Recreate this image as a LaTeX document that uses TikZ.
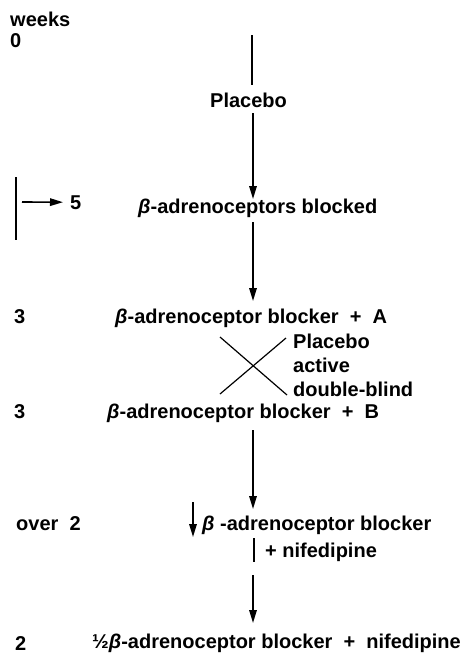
\documentclass[tikz,border=0pt]{standalone}
\usepackage{fontspec}
\setmainfont{Liberation Sans}
\usetikzlibrary{arrows.meta}
\newcommand{\bt}{{\itshape\bfseries β}}
\begin{document}
\begin{tikzpicture}[x=1pt,y=-1pt,
  txt/.style={anchor=base west,inner sep=0pt,font=\fontsize{20}{22}\selectfont\bfseries},
  conn/.style={line width=1.6pt},
  arr/.style={line width=1.6pt,-{Triangle[length=13pt,width=7.5pt]}}]
\useasboundingbox (0,0) rectangle (473,653);
% left labels
\node[txt] (weeks) at (10,26) {weeks};
\node[txt] (w0) at (10,47) {0};
\node[txt] (w5) at (70,209) {5};
\node[txt] (w3a) at (14,323) {3};
\node[txt] (w3b) at (14,418) {3};
\node[txt] (wover) at (16,530) {over\ \ 2};
\node[txt] (w2) at (15,650) {2};
% bracket with arrow to 5
\coordinate (brt) at (16,177);
\coordinate (brb) at (16,240);
\draw[conn] (brt) -- (brb);
\coordinate (fa) at (22,202);
\draw[arr,shorten >=7pt] (fa) -- (w5.west);
% centre texts
\node[txt] (placebo) at (210,107) {Placebo};
\node[txt] (blocked) at (138,213) {\bt-adrenoceptors blocked};
\node[txt] (bA) at (115,323) {\bt-adrenoceptor blocker\ \ +\ \ A};
\node[txt] (bB) at (107,418) {\bt-adrenoceptor blocker\ \ +\ \ B};
\node[txt] (pl) at (293,348) {Placebo};
\node[txt] (ac) at (293,372) {active};
\node[txt] (db) at (293,396) {double-blind};
\node[txt] (bN) at (202,530) {\bt\ -adrenoceptor blocker};
\node[txt] (nif) at (265,557) {+ nifedipine};
\node[txt] (half) at (92,648) {½\bt-adrenoceptor blocker\ \ +\ \ nifedipine};
% central connectors
\coordinate (top) at (252,35);
\coordinate (topb) at (252,85);
\draw[conn] (top) -- (topb);
\coordinate (p1) at (253,113);
\coordinate (p1e) at (253,199);
\draw[arr] (p1) -- (p1e);
\coordinate (p2) at (253,222);
\coordinate (p2e) at (253,301);
\draw[arr] (p2) -- (p2e);
% cross
\coordinate (xa) at (220,337);
\coordinate (xb) at (287,395);
\coordinate (xc) at (220,394);
\coordinate (xd) at (286,338);
\draw[line width=1.2pt] (xa) -- (xb);
\draw[line width=1.2pt] (xc) -- (xd);
\coordinate (p3) at (253,430);
\coordinate (p3e) at (253,509);
\draw[arr] (p3) -- (p3e);
\coordinate (sd) at (193,502);
\coordinate (sde) at (193,537);
\draw[arr] (sd) -- (sde);
\coordinate (bar1) at (254,538);
\coordinate (bar2) at (254,562);
\draw[conn] (bar1) -- (bar2);
\coordinate (p4) at (253,575);
\coordinate (p4e) at (253,623);
\draw[arr] (p4) -- (p4e);
\end{tikzpicture}
\end{document}
